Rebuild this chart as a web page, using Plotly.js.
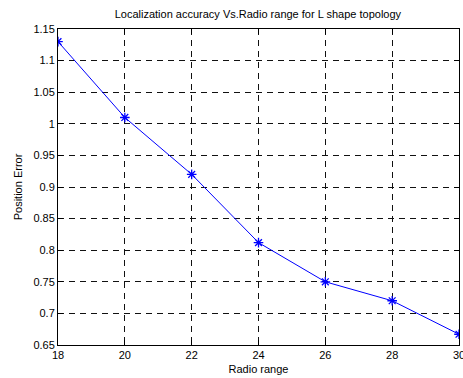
<!DOCTYPE html>
<html><head><meta charset="utf-8">
<script src="https://cdn.plot.ly/plotly-3.0.1.min.js"></script>
<style>html,body{margin:0;padding:0;background:#fff;overflow:hidden}#c{width:463px;height:378px}</style>
</head><body><div id="c"></div>
<script>
const radioRange = [18, 20, 22, 24, 26, 28, 30];
const positionError = [1.13, 1.01, 0.92, 0.812, 0.75, 0.72, 0.667];
const xTicks = [18, 20, 22, 24, 26, 28, 30];
const yTicks = [0.65, 0.7, 0.75, 0.8, 0.85, 0.9, 0.95, 1, 1.05, 1.1, 1.15];

const font = {family: 'Liberation Sans, Arial, sans-serif', size: 11, color: '#000'};
const axisCommon = {
  showline: true, linecolor: '#000', linewidth: 1, mirror: 'ticks',
  ticks: 'inside', ticklen: 5, tickcolor: '#000', tickwidth: 1,
  showgrid: true, gridcolor: '#111', griddash: '6px,5px', gridwidth: 1,
  zeroline: false, tickfont: font, ticklabeloverflow: 'allow'
};
Plotly.newPlot('c', [{
  x: radioRange, y: positionError, type: 'scatter', mode: 'lines+markers',
  line: {color: '#0000ff', width: 1},
  marker: {symbol: 'asterisk-open', size: 8, color: '#0000ff', line: {color: '#0000ff', width: 1.3}}
}], {
  width: 463, height: 378,
  margin: {l: 58, r: 4, t: 29, b: 33},
  paper_bgcolor: '#fff', plot_bgcolor: '#fff',
  font: font, showlegend: false,
  title: {text: 'Localization accuracy Vs.Radio range for L shape topology', font: font, x: 0.557, xanchor: 'center', y: 0.972, yanchor: 'top'},
  xaxis: Object.assign({}, axisCommon, {range: [18, 30], tickvals: xTicks, ticktext: xTicks.map(String),
    title: {text: 'Radio range', font: font, standoff: 5}}),
  yaxis: Object.assign({}, axisCommon, {range: [0.65, 1.15], tickvals: yTicks, ticktext: yTicks.map(String),
    title: {text: 'Position Error', font: font, standoff: 8}})
}, {staticPlot: true});
</script></body></html>
